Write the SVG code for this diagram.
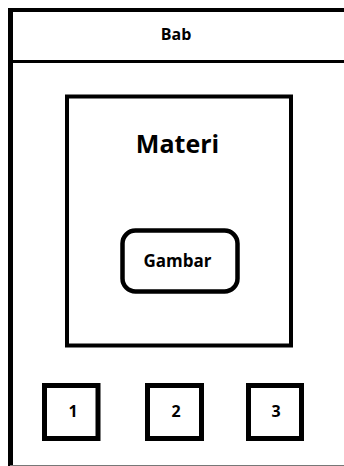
<svg xmlns="http://www.w3.org/2000/svg" width="344" height="466" viewBox="0 0 344 466">
<style>
.b{fill:none;stroke:#000}
.t{font-family:"Open Sans","Liberation Sans",sans-serif;font-weight:bold;fill:#000;text-anchor:middle}
</style>
<rect width="344" height="466" fill="#fff"/>
<g id="frame">
<line class="b" x1="10.5" y1="8" x2="10.5" y2="466" stroke-width="5"/>
<line class="b" x1="8" y1="10" x2="344" y2="10" stroke-width="4"/>
<line class="b" x1="10" y1="61.5" x2="344" y2="61.5" stroke-width="3"/>
<line x1="10" y1="465.5" x2="344" y2="465.5" stroke="#777" stroke-width="1"/>
</g>
<g id="bab"><text class="t" x="176" y="40" font-size="16">Bab</text></g>
<g id="materi">
<rect class="b" x="67" y="96.5" width="224" height="249" stroke-width="4"/>
<text class="t" x="177.5" y="153" font-size="25">Materi</text>
</g>
<g id="gambar">
<rect class="b" x="122.5" y="230.5" width="115" height="61" rx="13" stroke-width="4.5"/>
<text class="t" x="177.5" y="267" font-size="17">Gambar</text>
</g>
<g id="n1"><rect class="b" x="44.5" y="385.5" width="53.5" height="53" stroke-width="5"/><text class="t" x="73" y="417" font-size="16">1</text></g>
<g id="n2"><rect class="b" x="147.5" y="385.5" width="54" height="53" stroke-width="5"/><text class="t" x="176" y="417" font-size="16">2</text></g>
<g id="n3"><rect class="b" x="248.5" y="385.5" width="53" height="53" stroke-width="5"/><text class="t" x="276" y="417" font-size="16">3</text></g>
<g id="connectors"></g>
</svg>
